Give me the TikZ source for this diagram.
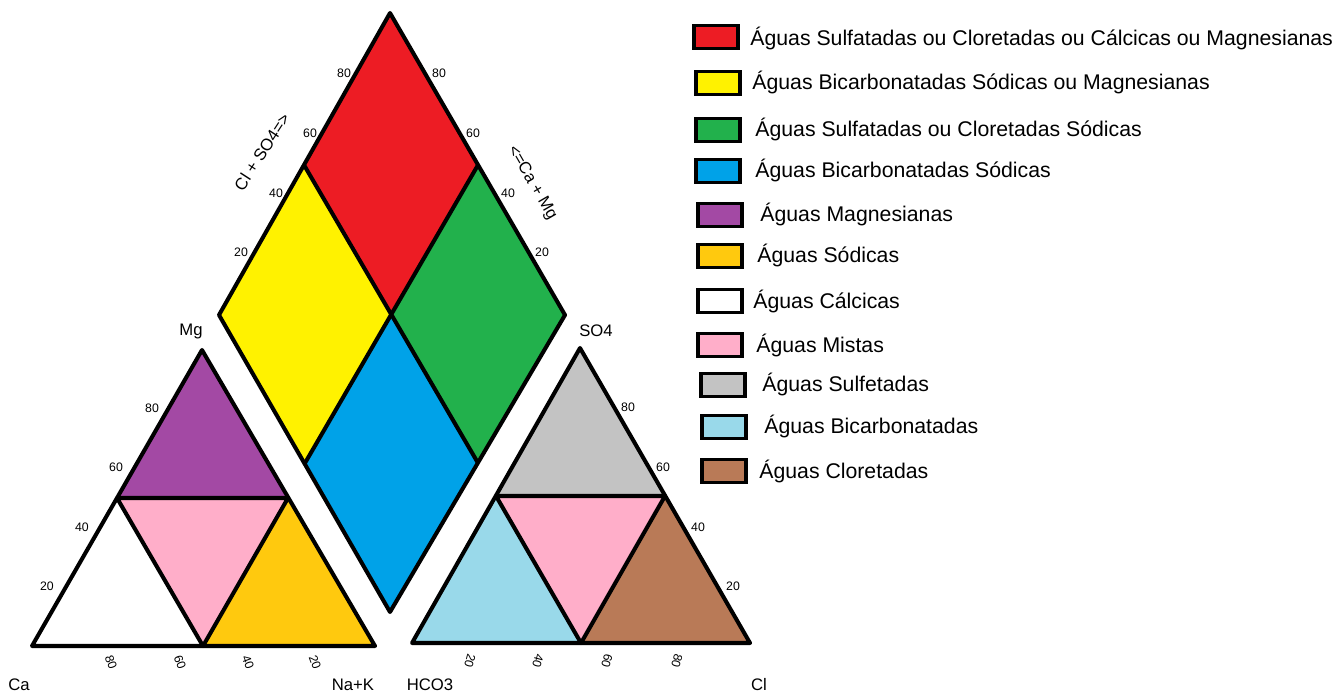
\documentclass[tikz,border=0pt]{standalone}
\usepackage{fontspec}
\setmainfont{Liberation Sans}
\usetikzlibrary{positioning}
\definecolor{vermelho}{HTML}{ED1C24}
\definecolor{amarelo}{HTML}{FFF200}
\definecolor{verde}{HTML}{22B14C}
\definecolor{azul}{HTML}{00A2E8}
\definecolor{roxo}{HTML}{A349A4}
\definecolor{ouro}{HTML}{FFC90E}
\definecolor{rosa}{HTML}{FFAEC9}
\definecolor{cinza}{HTML}{C3C3C3}
\definecolor{celeste}{HTML}{99D9EA}
\definecolor{marrom}{HTML}{B97A57}

\tikzstyle{zone} =[draw=black, line width=2.3pt, line join=round]
\tikzstyle{tick} =[font=\fontsize{7}{8}\selectfont, inner sep=0pt]
\tikzstyle{ion} =[font=\fontsize{9.5}{11}\selectfont, inner sep=0pt]
\tikzstyle{legbox} =[draw, line width=2.2pt, minimum width=0.88cm,
minimum height=0.46cm, inner sep=0pt]
\tikzstyle{legtext} =[anchor=west, font=\fontsize{12.1}{14}\selectfont,
inner sep=0pt]

\begin{document}
\begin{tikzpicture}[x=0.02cm, y=-0.02cm]
\useasboundingbox (0,0) rectangle (1337,693);
% losango
\coordinate (top) at (390,13);
\coordinate (left) at (219,315);
\coordinate (right) at (565,315);
\coordinate (bottom) at (390,612);
\coordinate (center) at (390,315);
\coordinate (ml) at (304,165);
\coordinate (mr) at (478,165);
\coordinate (bl) at (305,463);
\coordinate (br) at (478,463);
\fill[vermelho] (top) -- (ml) -- (center) -- (mr) -- cycle;
\fill[amarelo] (ml) -- (left) -- (bl) -- (center) -- cycle;
\fill[verde] (mr) -- (center) -- (br) -- (right) -- cycle;
\fill[azul] (center) -- (bl) -- (bottom) -- (br) -- cycle;
\draw[zone] (top) -- (left) -- (bottom) -- (right) -- cycle;
\draw[zone] (ml) -- (br);
\draw[zone] (mr) -- (bl);
% cations
\coordinate (mg) at (202,350);
\coordinate (ca) at (32,646);
\coordinate (nak) at (375,646);
\coordinate (cl1) at (117,498);
\coordinate (cr1) at (288,498);
\coordinate (cb1) at (203,646);
\fill[roxo] (mg) -- (cl1) -- (cr1) -- cycle;
\fill[white] (cl1) -- (ca) -- (cb1) -- cycle;
\fill[rosa] (cl1) -- (cr1) -- (cb1) -- cycle;
\fill[ouro] (cr1) -- (nak) -- (cb1) -- cycle;
\draw[zone] (mg) -- (ca) -- (nak) -- cycle;
\draw[zone] (cl1) -- (cr1) -- (cb1) -- cycle;
% anions
\coordinate (so4) at (580,348);
\coordinate (hco3) at (412,643);
\coordinate (cl) at (750,643);
\coordinate (cl2) at (496,496);
\coordinate (cr2) at (665,496);
\coordinate (cb2) at (581,643);
\fill[cinza] (so4) -- (cl2) -- (cr2) -- cycle;
\fill[celeste] (cl2) -- (hco3) -- (cb2) -- cycle;
\fill[rosa] (cl2) -- (cr2) -- (cb2) -- cycle;
\fill[marrom] (cr2) -- (cl) -- (cb2) -- cycle;
\draw[zone] (so4) -- (hco3) -- (cl) -- cycle;
\draw[zone] (cl2) -- (cr2) -- (cb2) -- cycle;
% escalas
\node[tick] (d80l) at (344,73) {80};
\node[tick] (d60l) at (310,133) {60};
\node[tick] (d40l) at (276,193) {40};
\node[tick] (d20l) at (241,252) {20};
\node[tick] (d80r) at (439,73) {80};
\node[tick] (d60r) at (473,133) {60};
\node[tick] (d40r) at (508,193) {40};
\node[tick] (d20r) at (542,252) {20};
\node[ion, rotate=57] (clso4) at (262,152) {Cl + SO4=>};
\node[ion, rotate=-60] (camg) at (532,183) {<=Ca + Mg};
\node[tick] (m80) at (152,408) {80};
\node[tick] (m60) at (116,467) {60};
\node[tick] (m40) at (82,527) {40};
\node[tick] (m20) at (47,586) {20};
\node[tick, rotate=-70] (n80) at (111,662) {80};
\node[tick, rotate=-70] (n60) at (180,662) {60};
\node[tick, rotate=-70] (n40) at (248,662) {40};
\node[tick, rotate=-70] (n20) at (315,662) {20};
\node[tick] (s80) at (628,407) {80};
\node[tick] (s60) at (663,467) {60};
\node[tick] (s40) at (698,527) {40};
\node[tick] (s20) at (733,586) {20};
\node[tick, rotate=-105] (h20) at (470,661) {20};
\node[tick, rotate=-105] (h40) at (538,661) {40};
\node[tick, rotate=-105] (h60) at (607,661) {60};
\node[tick, rotate=-105] (h80) at (677,661) {80};
\node[ion] (lmg) at (191,331) {Mg};
\node[ion] (lca) at (19,685) {Ca};
\node[ion] (lnak) at (353,685) {Na+K};
\node[ion] (lso4) at (596,331) {SO4};
\node[ion] (lhco3) at (430,685) {HCO3};
\node[ion] (lcl) at (759,685) {Cl};
% legenda
\node[legbox, fill=vermelho] (leg1) at (716,37) {};
\node[legbox, fill=amarelo] (leg2) at (718,83) {};
\node[legbox, fill=verde] (leg3) at (718,130) {};
\node[legbox, fill=azul] (leg4) at (718,171) {};
\node[legbox, fill=roxo] (leg5) at (720,215) {};
\node[legbox, fill=ouro] (leg6) at (720,256) {};
\node[legbox, fill=white] (leg7) at (720,301) {};
\node[legbox, fill=rosa] (leg8) at (720,345) {};
\node[legbox, fill=cinza] (leg9) at (723,385) {};
\node[legbox, fill=celeste] (leg10) at (724,427) {};
\node[legbox, fill=marrom] (leg11) at (724,471) {};
\node[legtext] (txt1) at (750,38) {Águas Sulfatadas ou Cloretadas ou Cálcicas ou Magnesianas};
\node[legtext] (txt2) at (752,82) {Águas Bicarbonatadas Sódicas ou Magnesianas};
\node[legtext] (txt3) at (755,129) {Águas Sulfatadas ou Cloretadas Sódicas};
\node[legtext] (txt4) at (755,170) {Águas Bicarbonatadas Sódicas};
\node[legtext] (txt5) at (760,214) {Águas Magnesianas};
\node[legtext] (txt6) at (757,255) {Águas Sódicas};
\node[legtext] (txt7) at (753,301) {Águas Cálcicas};
\node[legtext] (txt8) at (756,345) {Águas Mistas};
\node[legtext] (txt9) at (762,384) {Águas Sulfetadas};
\node[legtext] (txt10) at (764,426) {Águas Bicarbonatadas};
\node[legtext] (txt11) at (759,471) {Águas Cloretadas};
\end{tikzpicture}
\end{document}
